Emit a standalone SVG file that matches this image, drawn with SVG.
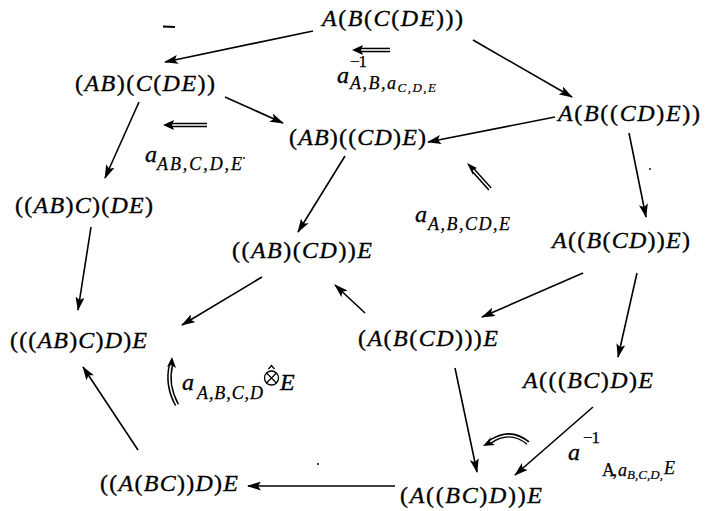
<svg xmlns="http://www.w3.org/2000/svg" width="708" height="511" viewBox="0 0 708 511">
<style>
text{font-family:"Liberation Serif","Times New Roman",serif;fill:#000;stroke:#000;stroke-width:0.35}
.n{font-style:italic;font-size:24px}
.p{font-style:normal}
.s{font-style:italic;font-size:18px;stroke-width:0.25}
.ss{font-style:italic;font-size:13px;stroke-width:0.2}
.sup{font-style:normal;font-size:17px;stroke-width:0.25}
.e line{stroke:#000;stroke-width:1.6;marker-end:url(#ah)}
.dbl{fill:none;stroke:#000;stroke-width:4.6}
.dbi{fill:none;stroke:#fff;stroke-width:1.6}
</style>
<defs>
<marker id="ah" markerUnits="userSpaceOnUse" markerWidth="14" markerHeight="9" refX="13" refY="4.5" orient="auto">
<path d="M0,0 L14,4.5 L0,9 L3,4.5 z" fill="#000"/>
</marker>
</defs>
<rect width="708" height="511" fill="#fff"/>

<g id="n1"><text class="n" x="322" y="26" textLength="141" lengthAdjust="spacing">A<tspan class="p">(</tspan>B<tspan class="p">(</tspan>C<tspan class="p">(</tspan>DE<tspan class="p">)))</tspan></text></g>
<g id="n2"><text class="n" x="75" y="91" textLength="140" lengthAdjust="spacing"><tspan class="p">(</tspan>AB<tspan class="p">)(</tspan>C<tspan class="p">(</tspan>DE<tspan class="p">))</tspan></text></g>
<g id="n3"><text class="n" x="558" y="121" textLength="142" lengthAdjust="spacing">A<tspan class="p">(</tspan>B<tspan class="p">((</tspan>CD<tspan class="p">)</tspan>E<tspan class="p">))</tspan></text></g>
<g id="n4"><text class="n" x="289" y="145" textLength="137" lengthAdjust="spacing"><tspan class="p">(</tspan>AB<tspan class="p">)((</tspan>CD<tspan class="p">)</tspan>E<tspan class="p">)</tspan></text></g>
<g id="n5"><text class="n" x="15" y="213" textLength="138" lengthAdjust="spacing"><tspan class="p">((</tspan>AB<tspan class="p">)</tspan>C<tspan class="p">)(</tspan>DE<tspan class="p">)</tspan></text></g>
<g id="n6"><text class="n" x="232" y="258" textLength="140" lengthAdjust="spacing"><tspan class="p">((</tspan>AB<tspan class="p">)(</tspan>CD<tspan class="p">))</tspan>E</text></g>
<g id="n7"><text class="n" x="552" y="248" textLength="138" lengthAdjust="spacing">A<tspan class="p">((</tspan>B<tspan class="p">(</tspan>CD<tspan class="p">))</tspan>E<tspan class="p">)</tspan></text></g>
<g id="n8"><text class="n" x="10" y="348" textLength="137" lengthAdjust="spacing"><tspan class="p">(((</tspan>AB<tspan class="p">)</tspan>C<tspan class="p">)</tspan>D<tspan class="p">)</tspan>E</text></g>
<g id="n9"><text class="n" x="358" y="346" textLength="140" lengthAdjust="spacing"><tspan class="p">(</tspan>A<tspan class="p">(</tspan>B<tspan class="p">(</tspan>CD<tspan class="p">)))</tspan>E</text></g>
<g id="n10"><text class="n" x="523" y="388" textLength="130" lengthAdjust="spacing">A<tspan class="p">(((</tspan>BC<tspan class="p">)</tspan>D<tspan class="p">)</tspan>E</text></g>
<g id="n11"><text class="n" x="100" y="491" textLength="138" lengthAdjust="spacing"><tspan class="p">((</tspan>A<tspan class="p">(</tspan>BC<tspan class="p">))</tspan>D<tspan class="p">)</tspan>E</text></g>
<g id="n12"><text class="n" x="400" y="503" textLength="142" lengthAdjust="spacing"><tspan class="p">(</tspan>A<tspan class="p">((</tspan>BC<tspan class="p">)</tspan>D<tspan class="p">))</tspan>E</text></g>

<g id="connectors" class="e">
<line x1="313" y1="31" x2="165" y2="62"/>
<line x1="473" y1="40" x2="572" y2="97"/>
<line x1="225" y1="97" x2="283" y2="123"/>
<line x1="139" y1="102" x2="105" y2="178"/>
<line x1="555" y1="117" x2="428" y2="142"/>
<line x1="629" y1="133" x2="646" y2="217"/>
<line x1="345" y1="156" x2="298" y2="232"/>
<line x1="91" y1="227" x2="78" y2="310"/>
<line x1="262" y1="277" x2="182" y2="325"/>
<line x1="365" y1="313" x2="335" y2="285"/>
<line x1="583" y1="273" x2="482" y2="317"/>
<line x1="637" y1="273" x2="618" y2="357"/>
<line x1="455" y1="368" x2="477" y2="472"/>
<line x1="593" y1="407" x2="515" y2="475"/>
<line x1="138" y1="450" x2="83" y2="367"/>
<line x1="395" y1="486" x2="248" y2="486"/>
</g>

<g id="twocells">
<g id="d1"><path class="dbl" d="M390,50 L360,50"/><path class="dbi" d="M391,50 L360,50"/><path d="M352,50 L363,45 L361,50 L363,55 z" fill="#000"/></g>
<g id="d2"><path class="dbl" d="M207,125 L171,125"/><path class="dbi" d="M208,125 L171,125"/><path d="M163,125 L174,120 L172,125 L174,130 z" fill="#000"/></g>
<g id="d3"><path class="dbl" d="M490,189 L473,170"/><path class="dbi" d="M491,190 L473,170"/><path d="M467,163 L477,168 L473,170 L473,175 z" fill="#000"/></g>
<g id="d4"><path class="dbl" d="M177,405 Q166,385 171,365"/><path class="dbi" d="M177.5,406 Q166,385 171,365"/><path d="M172,357 L176,368 L171,365 L167,367 z" fill="#000"/></g>
<g id="d5"><path class="dbl" d="M528,443 Q510,428 490,442"/><path class="dbi" d="M529,444 Q510,428 490,442"/><path d="M483,446 L491,437 L490,442 L495,445 z" fill="#000"/></g>
</g>

<g id="labels">
<g id="l1"><text class="n" x="337" y="83">a</text><text class="sup" x="350" y="67" textLength="17" lengthAdjust="spacing">−1</text><text class="s" x="350" y="89" style="letter-spacing:1.5px">A,B,a<tspan class="ss" dy="3" style="letter-spacing:1.5px">C,D,E</tspan></text></g>
<g id="l2"><text class="n" x="145" y="162">a</text><text class="s" x="157" y="170" textLength="85" lengthAdjust="spacing">AB,C,D,E</text><circle cx="244" cy="158" r="0.9" fill="#000"/></g>
<g id="l3"><text class="n" x="415" y="222">a</text><text class="s" x="428" y="230" textLength="82" lengthAdjust="spacing">A,B,CD,E</text></g>
<g id="l4"><text class="n" x="182" y="390">a</text><text class="s" x="197" y="399" textLength="66" lengthAdjust="spacing">A,B,C,D</text><circle cx="271.5" cy="378" r="7" fill="none" stroke="#000" stroke-width="1.3"/><path d="M266.5,373 L276.5,383 M276.5,373 L266.5,383" stroke="#000" stroke-width="1.2"/><path d="M268.5,369 L271.5,365.5 L274.5,369" fill="none" stroke="#000" stroke-width="1.2"/><text class="n" x="280" y="390">E</text></g>
<g id="l5"><text class="n" x="568" y="460">a</text><text class="sup" x="583" y="443" textLength="17" lengthAdjust="spacing">−1</text><text class="s" x="602" y="476" style="font-style:normal" textLength="15" lengthAdjust="spacing">A,</text><text class="s" x="618" y="476">a</text><text class="ss" x="627" y="479" textLength="36" lengthAdjust="spacing">B,C,D,</text><text class="s" x="664" y="474">E</text></g>
</g>

<g id="specks">
<path d="M163,26.5 L175,27" stroke="#000" stroke-width="2.2"/>
<circle cx="650" cy="169" r="0.9" fill="#000"/>
<circle cx="318" cy="464" r="1" fill="#000"/>
</g>
</svg>
